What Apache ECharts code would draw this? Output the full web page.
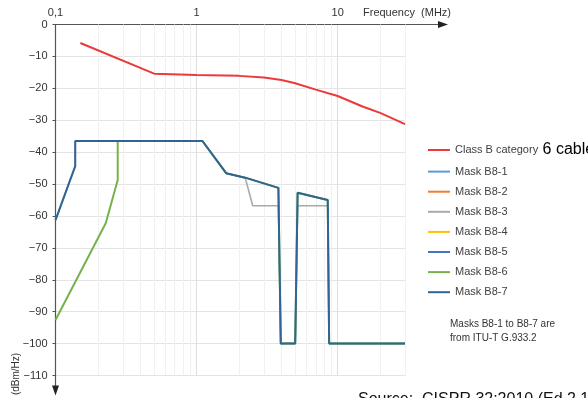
<!DOCTYPE html>
<html>
<head>
<meta charset="utf-8">
<script src="https://cdn.jsdelivr.net/npm/echarts@6/dist/echarts.min.js"></script>
<style>
html,body{margin:0;padding:0;background:#fff;}
#c{width:588px;height:398px;}
</style>
</head>
<body>
<div id="c"></div>
<script>
// ---- data ----
const classBName = 'Class B category 6 cable';
const freqClassB = [0.15, 0.5, 1, 2, 3, 4, 5, 7, 10, 15, 20, 30];
const valClassB  = [-5.8, -15.4, -15.8, -16.1, -16.6, -17.4, -18.4, -20.4, -22.4, -25.7, -27.7, -31.2];

const freqB87 = [0.1, 0.138, 0.138, 1.1, 1.62, 2.21, 3.8, 3.95, 5.0, 5.2, 8.5, 8.7, 30];
const valB87  = [-61.3, -44.4, -36.5, -36.5, -46.6, -48.0, -51.2, -100, -100, -52.7, -55.0, -100, -100];

const freqB86 = [0.1, 0.227, 0.276, 0.276, 1.1, 1.62, 2.21, 3.8, 3.95, 5.0, 5.2, 8.5, 8.7, 30];
const valB86  = [-92.6, -62.3, -48.7, -36.5, -36.5, -46.6, -48.0, -51.2, -100, -100, -52.7, -55.0, -100, -100];

const freqB83 = [0.1, 0.138, 0.138, 1.1, 1.62, 2.21, 2.5, 3.8, 3.95, 5.0, 5.2, 8.5, 8.7, 30];
const valB83  = [-61.3, -44.4, -36.5, -36.5, -46.6, -48.0, -56.8, -56.8, -100, -100, -56.8, -56.8, -100, -100];

const minorFreqs = [0.2, 0.3, 0.4, 0.5, 0.6, 0.7, 0.8, 0.9, 2, 3, 4, 5, 6, 7, 8, 9, 20, 30];
const legendNames = [classBName, 'Mask B8-1', 'Mask B8-2', 'Mask B8-3', 'Mask B8-4', 'Mask B8-5', 'Mask B8-6', 'Mask B8-7'];

const pairs = (xs, ys) => xs.map((x, i) => [x, ys[i]]);

const chart = echarts.init(document.getElementById('c'));
const FONT = 'Liberation Sans, Arial, sans-serif';

function lineSeries(name, data, color, width) {
  return {
    name: name, type: 'line', data: data, symbol: 'none', showSymbol: false,
    lineStyle: { color: color, width: width }, itemStyle: { color: color },
    animation: false, silent: true, z: 3
  };
}

const option = {
  animation: false,
  grid: { left: 55.5, right: 183, top: 24.5, bottom: 22.5 },
  xAxis: {
    type: 'log', logBase: 10, min: 0.1, max: 30, position: 'top',
    axisLine: { show: true, lineStyle: { color: '#555', width: 1.2 } },
    axisTick: { show: false },
    axisLabel: {
      margin: 6, color: '#333', fontSize: 11, fontFamily: FONT,
      formatter: function (v) {
        const l = Math.log10(v);
        if (Math.abs(l - Math.round(l)) > 1e-6) return '';
        return v < 1 ? String(+v.toFixed(3)).replace('.', ',') : String(Math.round(v));
      }
    },
    splitLine: { show: true, lineStyle: { color: '#dedede', width: 1 } }
  },
  yAxis: {
    type: 'value', min: -110, max: 0, interval: 10,
    axisLine: { show: true, lineStyle: { color: '#555', width: 1.2 } },
    axisTick: { show: true, length: 3, lineStyle: { color: '#555' } },
    axisLabel: {
      margin: 8, color: '#333', fontSize: 11, fontFamily: FONT,
      formatter: v => v === 0 ? '0' : '\u2212' + Math.abs(v)
    },
    splitLine: { show: true, lineStyle: { color: '#e4e4e4', width: 1 } }
  },
  legend: {
    orient: 'vertical', left: 428, top: 142, padding: 0,
    icon: 'rect', itemWidth: 22, itemHeight: 2, itemGap: 7.1,
    data: legendNames, selectedMode: false,
    textStyle: {
      fontSize: 11, color: '#404040', fontFamily: FONT, lineHeight: 13,
      rich: {
        n: { fontSize: 11, color: '#404040', fontFamily: FONT, lineHeight: 10 },
        big: { fontSize: 16, color: '#000', fontFamily: FONT, lineHeight: 10 }
      }
    },
    formatter: function (name) {
      return name === classBName ? '{n|Class B category}{big| 6 cable}' : name;
    }
  },
  series: [
    {
      name: 'grid-minor', type: 'line', data: [], z: 1, silent: true,
      markLine: {
        z: 1, silent: true, symbol: ['none', 'none'], label: { show: false },
        lineStyle: { color: '#f1f1f1', type: 'solid', width: 1 },
        animation: false,
        data: minorFreqs.map(f => ({ xAxis: f }))
      }
    },
    lineSeries(classBName, pairs(freqClassB, valClassB), '#ec3a3a', 2),
    lineSeries('Mask B8-1', [], '#5b9bd5', 2),
    lineSeries('Mask B8-2', [], '#ed7d31', 2),
    lineSeries('Mask B8-3', pairs(freqB83, valB83), '#a9a9a9', 1.6),
    lineSeries('Mask B8-4', [], '#ffc000', 2),
    lineSeries('Mask B8-5', [], '#4472c4', 2),
    lineSeries('Mask B8-6', pairs(freqB86, valB86), '#76b24c', 2),
    lineSeries('Mask B8-7', pairs(freqB87, valB87), '#2f6494', 2)
  ]
};
chart.setOption(option);

// axis extensions and arrows, positioned from the library's own scale
const pTop = chart.convertToPixel({ gridIndex: 0 }, [30, 0]);
const pOrig = chart.convertToPixel({ gridIndex: 0 }, [0.1, 0]);
const pBot = chart.convertToPixel({ gridIndex: 0 }, [0.1, -110]);
const ax = pOrig[0], ay = pOrig[1];
const xEnd = pTop[0] + 43, yEnd = pBot[1] + 20;

chart.setOption({
  graphic: [
    { type: 'line', shape: { x1: pTop[0], y1: ay, x2: xEnd - 8, y2: ay }, style: { stroke: '#555', lineWidth: 1.2 }, silent: true },
    { type: 'polygon', shape: { points: [[xEnd, ay], [xEnd - 10, ay - 3.5], [xEnd - 10, ay + 3.5]] }, style: { fill: '#222' }, silent: true },
    { type: 'line', shape: { x1: ax, y1: pBot[1], x2: ax, y2: yEnd - 8 }, style: { stroke: '#555', lineWidth: 1.2 }, silent: true },
    { type: 'polygon', shape: { points: [[ax, yEnd], [ax - 3.5, yEnd - 10], [ax + 3.5, yEnd - 10]] }, style: { fill: '#222' }, silent: true },
    { type: 'text', left: 363, top: 7, style: { text: 'Frequency  (MHz)', fontSize: 11, fill: '#333', fontFamily: FONT }, silent: true },
    { type: 'text', x: 16, y: 374, rotation: Math.PI / 2, style: { text: '(dBm/Hz)', fontSize: 10, fill: '#333', fontFamily: FONT, align: 'center', verticalAlign: 'middle' }, silent: true },
    { type: 'text', left: 450, top: 317, style: { text: 'Masks B8-1 to B8-7 are\nfrom ITU-T G.933.2', fontSize: 10, lineHeight: 14, fill: '#333', fontFamily: FONT }, silent: true },
    { type: 'text', left: 358, top: 392, style: { text: 'Source:  CISPR 32:2010 (Ed 2.1)', fontSize: 16, fill: '#111', fontFamily: FONT }, silent: true }
  ]
});
</script>
</body>
</html>
